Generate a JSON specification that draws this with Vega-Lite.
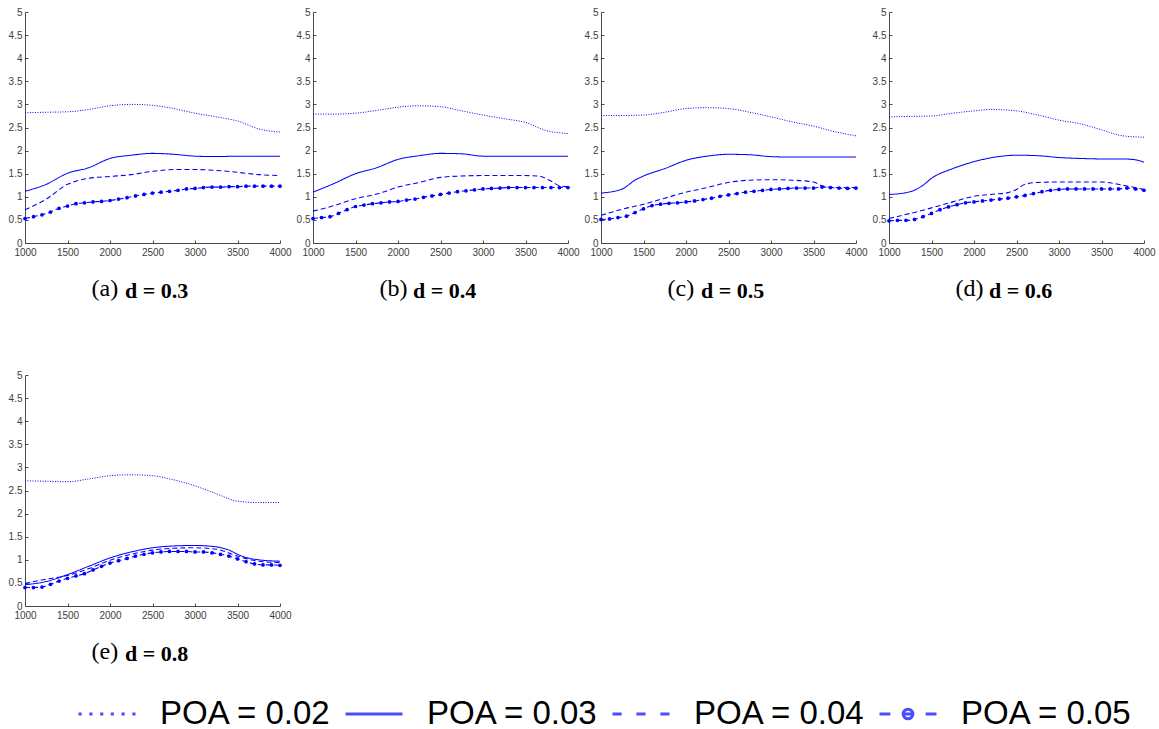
{
"$schema": "https://vega.github.io/schema/vega-lite/v6.json",
"padding": {"left": 8, "top": 7, "right": 5, "bottom": 5},
"background": "white",
"data": {"values": [
{"d":"0.3","p":"0.02","x":1000,"y":2.82},{"d":"0.3","p":"0.02","x":1250,"y":2.83},{"d":"0.3","p":"0.02","x":1500,"y":2.84},{"d":"0.3","p":"0.02","x":1750,"y":2.89},{"d":"0.3","p":"0.02","x":2000,"y":2.97},{"d":"0.3","p":"0.02","x":2250,"y":3.0},{"d":"0.3","p":"0.02","x":2500,"y":2.98},{"d":"0.3","p":"0.02","x":2750,"y":2.91},{"d":"0.3","p":"0.02","x":3000,"y":2.81},{"d":"0.3","p":"0.02","x":3250,"y":2.73},{"d":"0.3","p":"0.02","x":3500,"y":2.64},{"d":"0.3","p":"0.02","x":3750,"y":2.47},{"d":"0.3","p":"0.02","x":4000,"y":2.40},
{"d":"0.3","p":"0.03","x":1000,"y":1.12},{"d":"0.3","p":"0.03","x":1250,"y":1.27},{"d":"0.3","p":"0.03","x":1500,"y":1.51},{"d":"0.3","p":"0.03","x":1750,"y":1.63},{"d":"0.3","p":"0.03","x":2000,"y":1.83},{"d":"0.3","p":"0.03","x":2250,"y":1.90},{"d":"0.3","p":"0.03","x":2500,"y":1.94},{"d":"0.3","p":"0.03","x":2750,"y":1.92},{"d":"0.3","p":"0.03","x":3000,"y":1.88},{"d":"0.3","p":"0.03","x":3250,"y":1.87},{"d":"0.3","p":"0.03","x":3500,"y":1.88},{"d":"0.3","p":"0.03","x":3750,"y":1.88},{"d":"0.3","p":"0.03","x":4000,"y":1.88},
{"d":"0.3","p":"0.04","x":1000,"y":0.72},{"d":"0.3","p":"0.04","x":1250,"y":0.95},{"d":"0.3","p":"0.04","x":1500,"y":1.27},{"d":"0.3","p":"0.04","x":1750,"y":1.40},{"d":"0.3","p":"0.04","x":2000,"y":1.44},{"d":"0.3","p":"0.04","x":2250,"y":1.48},{"d":"0.3","p":"0.04","x":2500,"y":1.55},{"d":"0.3","p":"0.04","x":2750,"y":1.59},{"d":"0.3","p":"0.04","x":3000,"y":1.59},{"d":"0.3","p":"0.04","x":3250,"y":1.57},{"d":"0.3","p":"0.04","x":3500,"y":1.53},{"d":"0.3","p":"0.04","x":3750,"y":1.48},{"d":"0.3","p":"0.04","x":4000,"y":1.46},
{"d":"0.3","p":"0.05","x":1000,"y":0.53},{"d":"0.3","p":"0.05","x":1100,"y":0.57},{"d":"0.3","p":"0.05","x":1200,"y":0.61},{"d":"0.3","p":"0.05","x":1300,"y":0.67},{"d":"0.3","p":"0.05","x":1400,"y":0.75},{"d":"0.3","p":"0.05","x":1500,"y":0.80},{"d":"0.3","p":"0.05","x":1600,"y":0.85},{"d":"0.3","p":"0.05","x":1700,"y":0.87},{"d":"0.3","p":"0.05","x":1800,"y":0.89},{"d":"0.3","p":"0.05","x":1900,"y":0.90},{"d":"0.3","p":"0.05","x":2000,"y":0.92},{"d":"0.3","p":"0.05","x":2100,"y":0.95},{"d":"0.3","p":"0.05","x":2200,"y":0.98},{"d":"0.3","p":"0.05","x":2300,"y":1.02},{"d":"0.3","p":"0.05","x":2400,"y":1.05},{"d":"0.3","p":"0.05","x":2500,"y":1.08},{"d":"0.3","p":"0.05","x":2600,"y":1.10},{"d":"0.3","p":"0.05","x":2700,"y":1.12},{"d":"0.3","p":"0.05","x":2800,"y":1.14},{"d":"0.3","p":"0.05","x":2900,"y":1.17},{"d":"0.3","p":"0.05","x":3000,"y":1.18},{"d":"0.3","p":"0.05","x":3100,"y":1.20},{"d":"0.3","p":"0.05","x":3200,"y":1.21},{"d":"0.3","p":"0.05","x":3300,"y":1.21},{"d":"0.3","p":"0.05","x":3400,"y":1.22},{"d":"0.3","p":"0.05","x":3500,"y":1.22},{"d":"0.3","p":"0.05","x":3600,"y":1.23},{"d":"0.3","p":"0.05","x":3700,"y":1.23},{"d":"0.3","p":"0.05","x":3800,"y":1.23},{"d":"0.3","p":"0.05","x":3900,"y":1.23},{"d":"0.3","p":"0.05","x":4000,"y":1.23},

{"d":"0.4","p":"0.02","x":1000,"y":2.79},{"d":"0.4","p":"0.02","x":1250,"y":2.79},{"d":"0.4","p":"0.02","x":1500,"y":2.81},{"d":"0.4","p":"0.02","x":1750,"y":2.87},{"d":"0.4","p":"0.02","x":2000,"y":2.94},{"d":"0.4","p":"0.02","x":2250,"y":2.97},{"d":"0.4","p":"0.02","x":2500,"y":2.95},{"d":"0.4","p":"0.02","x":2750,"y":2.86},{"d":"0.4","p":"0.02","x":3000,"y":2.77},{"d":"0.4","p":"0.02","x":3250,"y":2.69},{"d":"0.4","p":"0.02","x":3500,"y":2.61},{"d":"0.4","p":"0.02","x":3750,"y":2.43},{"d":"0.4","p":"0.02","x":4000,"y":2.37},
{"d":"0.4","p":"0.03","x":1000,"y":1.10},{"d":"0.4","p":"0.03","x":1250,"y":1.29},{"d":"0.4","p":"0.03","x":1500,"y":1.50},{"d":"0.4","p":"0.03","x":1750,"y":1.63},{"d":"0.4","p":"0.03","x":2000,"y":1.81},{"d":"0.4","p":"0.03","x":2250,"y":1.89},{"d":"0.4","p":"0.03","x":2500,"y":1.94},{"d":"0.4","p":"0.03","x":2750,"y":1.93},{"d":"0.4","p":"0.03","x":3000,"y":1.88},{"d":"0.4","p":"0.03","x":3250,"y":1.88},{"d":"0.4","p":"0.03","x":3500,"y":1.88},{"d":"0.4","p":"0.03","x":3750,"y":1.88},{"d":"0.4","p":"0.03","x":4000,"y":1.88},
{"d":"0.4","p":"0.04","x":1000,"y":0.69},{"d":"0.4","p":"0.04","x":1250,"y":0.81},{"d":"0.4","p":"0.04","x":1500,"y":0.96},{"d":"0.4","p":"0.04","x":1750,"y":1.06},{"d":"0.4","p":"0.04","x":2000,"y":1.21},{"d":"0.4","p":"0.04","x":2250,"y":1.31},{"d":"0.4","p":"0.04","x":2500,"y":1.42},{"d":"0.4","p":"0.04","x":2750,"y":1.45},{"d":"0.4","p":"0.04","x":3000,"y":1.46},{"d":"0.4","p":"0.04","x":3250,"y":1.46},{"d":"0.4","p":"0.04","x":3500,"y":1.46},{"d":"0.4","p":"0.04","x":3650,"y":1.45},{"d":"0.4","p":"0.04","x":3800,"y":1.34},{"d":"0.4","p":"0.04","x":3900,"y":1.24},{"d":"0.4","p":"0.04","x":4000,"y":1.22},
{"d":"0.4","p":"0.05","x":1000,"y":0.53},{"d":"0.4","p":"0.05","x":1100,"y":0.55},{"d":"0.4","p":"0.05","x":1200,"y":0.57},{"d":"0.4","p":"0.05","x":1300,"y":0.64},{"d":"0.4","p":"0.05","x":1400,"y":0.72},{"d":"0.4","p":"0.05","x":1500,"y":0.79},{"d":"0.4","p":"0.05","x":1600,"y":0.82},{"d":"0.4","p":"0.05","x":1700,"y":0.85},{"d":"0.4","p":"0.05","x":1800,"y":0.87},{"d":"0.4","p":"0.05","x":1900,"y":0.89},{"d":"0.4","p":"0.05","x":2000,"y":0.90},{"d":"0.4","p":"0.05","x":2100,"y":0.93},{"d":"0.4","p":"0.05","x":2200,"y":0.95},{"d":"0.4","p":"0.05","x":2300,"y":0.99},{"d":"0.4","p":"0.05","x":2400,"y":1.02},{"d":"0.4","p":"0.05","x":2500,"y":1.05},{"d":"0.4","p":"0.05","x":2600,"y":1.08},{"d":"0.4","p":"0.05","x":2700,"y":1.11},{"d":"0.4","p":"0.05","x":2800,"y":1.13},{"d":"0.4","p":"0.05","x":2900,"y":1.15},{"d":"0.4","p":"0.05","x":3000,"y":1.17},{"d":"0.4","p":"0.05","x":3100,"y":1.18},{"d":"0.4","p":"0.05","x":3200,"y":1.19},{"d":"0.4","p":"0.05","x":3300,"y":1.20},{"d":"0.4","p":"0.05","x":3400,"y":1.20},{"d":"0.4","p":"0.05","x":3500,"y":1.20},{"d":"0.4","p":"0.05","x":3600,"y":1.20},{"d":"0.4","p":"0.05","x":3700,"y":1.20},{"d":"0.4","p":"0.05","x":3800,"y":1.20},{"d":"0.4","p":"0.05","x":3900,"y":1.20},{"d":"0.4","p":"0.05","x":4000,"y":1.20},

{"d":"0.5","p":"0.02","x":1000,"y":2.76},{"d":"0.5","p":"0.02","x":1250,"y":2.76},{"d":"0.5","p":"0.02","x":1500,"y":2.77},{"d":"0.5","p":"0.02","x":1750,"y":2.83},{"d":"0.5","p":"0.02","x":2000,"y":2.91},{"d":"0.5","p":"0.02","x":2250,"y":2.93},{"d":"0.5","p":"0.02","x":2500,"y":2.91},{"d":"0.5","p":"0.02","x":2750,"y":2.83},{"d":"0.5","p":"0.02","x":3000,"y":2.73},{"d":"0.5","p":"0.02","x":3250,"y":2.62},{"d":"0.5","p":"0.02","x":3500,"y":2.53},{"d":"0.5","p":"0.02","x":3750,"y":2.41},{"d":"0.5","p":"0.02","x":4000,"y":2.32},
{"d":"0.5","p":"0.03","x":1000,"y":1.08},{"d":"0.5","p":"0.03","x":1250,"y":1.17},{"d":"0.5","p":"0.03","x":1400,"y":1.36},{"d":"0.5","p":"0.03","x":1500,"y":1.45},{"d":"0.5","p":"0.03","x":1750,"y":1.61},{"d":"0.5","p":"0.03","x":2000,"y":1.79},{"d":"0.5","p":"0.03","x":2250,"y":1.88},{"d":"0.5","p":"0.03","x":2500,"y":1.92},{"d":"0.5","p":"0.03","x":2750,"y":1.91},{"d":"0.5","p":"0.03","x":3000,"y":1.87},{"d":"0.5","p":"0.03","x":3250,"y":1.86},{"d":"0.5","p":"0.03","x":3500,"y":1.86},{"d":"0.5","p":"0.03","x":3750,"y":1.86},{"d":"0.5","p":"0.03","x":4000,"y":1.86},
{"d":"0.5","p":"0.04","x":1000,"y":0.60},{"d":"0.5","p":"0.04","x":1250,"y":0.73},{"d":"0.5","p":"0.04","x":1500,"y":0.84},{"d":"0.5","p":"0.04","x":1750,"y":0.97},{"d":"0.5","p":"0.04","x":2000,"y":1.10},{"d":"0.5","p":"0.04","x":2250,"y":1.20},{"d":"0.5","p":"0.04","x":2500,"y":1.31},{"d":"0.5","p":"0.04","x":2750,"y":1.36},{"d":"0.5","p":"0.04","x":3000,"y":1.37},{"d":"0.5","p":"0.04","x":3250,"y":1.36},{"d":"0.5","p":"0.04","x":3500,"y":1.32},{"d":"0.5","p":"0.04","x":3600,"y":1.24},{"d":"0.5","p":"0.04","x":3750,"y":1.20},{"d":"0.5","p":"0.04","x":4000,"y":1.20},
{"d":"0.5","p":"0.05","x":1000,"y":0.51},{"d":"0.5","p":"0.05","x":1100,"y":0.52},{"d":"0.5","p":"0.05","x":1200,"y":0.55},{"d":"0.5","p":"0.05","x":1300,"y":0.58},{"d":"0.5","p":"0.05","x":1400,"y":0.66},{"d":"0.5","p":"0.05","x":1500,"y":0.74},{"d":"0.5","p":"0.05","x":1600,"y":0.81},{"d":"0.5","p":"0.05","x":1700,"y":0.84},{"d":"0.5","p":"0.05","x":1800,"y":0.86},{"d":"0.5","p":"0.05","x":1900,"y":0.87},{"d":"0.5","p":"0.05","x":2000,"y":0.89},{"d":"0.5","p":"0.05","x":2100,"y":0.91},{"d":"0.5","p":"0.05","x":2200,"y":0.94},{"d":"0.5","p":"0.05","x":2300,"y":0.97},{"d":"0.5","p":"0.05","x":2400,"y":1.01},{"d":"0.5","p":"0.05","x":2500,"y":1.04},{"d":"0.5","p":"0.05","x":2600,"y":1.07},{"d":"0.5","p":"0.05","x":2700,"y":1.10},{"d":"0.5","p":"0.05","x":2800,"y":1.12},{"d":"0.5","p":"0.05","x":2900,"y":1.14},{"d":"0.5","p":"0.05","x":3000,"y":1.16},{"d":"0.5","p":"0.05","x":3100,"y":1.17},{"d":"0.5","p":"0.05","x":3200,"y":1.18},{"d":"0.5","p":"0.05","x":3300,"y":1.19},{"d":"0.5","p":"0.05","x":3400,"y":1.19},{"d":"0.5","p":"0.05","x":3500,"y":1.19},{"d":"0.5","p":"0.05","x":3600,"y":1.21},{"d":"0.5","p":"0.05","x":3700,"y":1.20},{"d":"0.5","p":"0.05","x":3800,"y":1.19},{"d":"0.5","p":"0.05","x":3900,"y":1.18},{"d":"0.5","p":"0.05","x":4000,"y":1.19},

{"d":"0.6","p":"0.02","x":1000,"y":2.73},{"d":"0.6","p":"0.02","x":1250,"y":2.74},{"d":"0.6","p":"0.02","x":1500,"y":2.75},{"d":"0.6","p":"0.02","x":1750,"y":2.81},{"d":"0.6","p":"0.02","x":2000,"y":2.86},{"d":"0.6","p":"0.02","x":2200,"y":2.89},{"d":"0.6","p":"0.02","x":2500,"y":2.86},{"d":"0.6","p":"0.02","x":2750,"y":2.77},{"d":"0.6","p":"0.02","x":3000,"y":2.66},{"d":"0.6","p":"0.02","x":3250,"y":2.58},{"d":"0.6","p":"0.02","x":3500,"y":2.45},{"d":"0.6","p":"0.02","x":3750,"y":2.32},{"d":"0.6","p":"0.02","x":4000,"y":2.29},
{"d":"0.6","p":"0.03","x":1000,"y":1.05},{"d":"0.6","p":"0.03","x":1250,"y":1.11},{"d":"0.6","p":"0.03","x":1400,"y":1.25},{"d":"0.6","p":"0.03","x":1500,"y":1.40},{"d":"0.6","p":"0.03","x":1750,"y":1.61},{"d":"0.6","p":"0.03","x":2000,"y":1.76},{"d":"0.6","p":"0.03","x":2250,"y":1.86},{"d":"0.6","p":"0.03","x":2500,"y":1.90},{"d":"0.6","p":"0.03","x":2750,"y":1.89},{"d":"0.6","p":"0.03","x":3000,"y":1.85},{"d":"0.6","p":"0.03","x":3250,"y":1.83},{"d":"0.6","p":"0.03","x":3500,"y":1.82},{"d":"0.6","p":"0.03","x":3750,"y":1.82},{"d":"0.6","p":"0.03","x":3900,"y":1.80},{"d":"0.6","p":"0.03","x":4000,"y":1.75},
{"d":"0.6","p":"0.04","x":1000,"y":0.53},{"d":"0.6","p":"0.04","x":1250,"y":0.64},{"d":"0.6","p":"0.04","x":1500,"y":0.76},{"d":"0.6","p":"0.04","x":1750,"y":0.89},{"d":"0.6","p":"0.04","x":2000,"y":1.01},{"d":"0.6","p":"0.04","x":2250,"y":1.06},{"d":"0.6","p":"0.04","x":2400,"y":1.09},{"d":"0.6","p":"0.04","x":2500,"y":1.16},{"d":"0.6","p":"0.04","x":2600,"y":1.27},{"d":"0.6","p":"0.04","x":2750,"y":1.31},{"d":"0.6","p":"0.04","x":3000,"y":1.32},{"d":"0.6","p":"0.04","x":3250,"y":1.32},{"d":"0.6","p":"0.04","x":3500,"y":1.32},{"d":"0.6","p":"0.04","x":3750,"y":1.25},{"d":"0.6","p":"0.04","x":4000,"y":1.16},
{"d":"0.6","p":"0.05","x":1000,"y":0.48},{"d":"0.6","p":"0.05","x":1100,"y":0.49},{"d":"0.6","p":"0.05","x":1200,"y":0.49},{"d":"0.6","p":"0.05","x":1300,"y":0.51},{"d":"0.6","p":"0.05","x":1400,"y":0.57},{"d":"0.6","p":"0.05","x":1500,"y":0.64},{"d":"0.6","p":"0.05","x":1600,"y":0.72},{"d":"0.6","p":"0.05","x":1700,"y":0.78},{"d":"0.6","p":"0.05","x":1800,"y":0.83},{"d":"0.6","p":"0.05","x":1900,"y":0.87},{"d":"0.6","p":"0.05","x":2000,"y":0.89},{"d":"0.6","p":"0.05","x":2100,"y":0.91},{"d":"0.6","p":"0.05","x":2200,"y":0.93},{"d":"0.6","p":"0.05","x":2300,"y":0.95},{"d":"0.6","p":"0.05","x":2400,"y":0.97},{"d":"0.6","p":"0.05","x":2500,"y":1.00},{"d":"0.6","p":"0.05","x":2600,"y":1.03},{"d":"0.6","p":"0.05","x":2700,"y":1.07},{"d":"0.6","p":"0.05","x":2800,"y":1.11},{"d":"0.6","p":"0.05","x":2900,"y":1.14},{"d":"0.6","p":"0.05","x":3000,"y":1.16},{"d":"0.6","p":"0.05","x":3100,"y":1.17},{"d":"0.6","p":"0.05","x":3200,"y":1.17},{"d":"0.6","p":"0.05","x":3300,"y":1.17},{"d":"0.6","p":"0.05","x":3400,"y":1.17},{"d":"0.6","p":"0.05","x":3500,"y":1.17},{"d":"0.6","p":"0.05","x":3600,"y":1.17},{"d":"0.6","p":"0.05","x":3700,"y":1.17},{"d":"0.6","p":"0.05","x":3800,"y":1.19},{"d":"0.6","p":"0.05","x":3900,"y":1.17},{"d":"0.6","p":"0.05","x":4000,"y":1.14},

{"d":"0.8","p":"0.02","x":1000,"y":2.71},{"d":"0.8","p":"0.02","x":1250,"y":2.70},{"d":"0.8","p":"0.02","x":1500,"y":2.69},{"d":"0.8","p":"0.02","x":1750,"y":2.75},{"d":"0.8","p":"0.02","x":2000,"y":2.82},{"d":"0.8","p":"0.02","x":2250,"y":2.84},{"d":"0.8","p":"0.02","x":2500,"y":2.82},{"d":"0.8","p":"0.02","x":2750,"y":2.73},{"d":"0.8","p":"0.02","x":3000,"y":2.60},{"d":"0.8","p":"0.02","x":3250,"y":2.43},{"d":"0.8","p":"0.02","x":3500,"y":2.27},{"d":"0.8","p":"0.02","x":3750,"y":2.24},{"d":"0.8","p":"0.02","x":4000,"y":2.24},
{"d":"0.8","p":"0.03","x":1000,"y":0.46},{"d":"0.8","p":"0.03","x":1250,"y":0.53},{"d":"0.8","p":"0.03","x":1500,"y":0.68},{"d":"0.8","p":"0.03","x":1750,"y":0.86},{"d":"0.8","p":"0.03","x":2000,"y":1.04},{"d":"0.8","p":"0.03","x":2250,"y":1.17},{"d":"0.8","p":"0.03","x":2500,"y":1.26},{"d":"0.8","p":"0.03","x":2750,"y":1.30},{"d":"0.8","p":"0.03","x":3000,"y":1.31},{"d":"0.8","p":"0.03","x":3250,"y":1.28},{"d":"0.8","p":"0.03","x":3400,"y":1.21},{"d":"0.8","p":"0.03","x":3500,"y":1.12},{"d":"0.8","p":"0.03","x":3600,"y":1.05},{"d":"0.8","p":"0.03","x":3750,"y":1.00},{"d":"0.8","p":"0.03","x":4000,"y":0.97},
{"d":"0.8","p":"0.04","x":1000,"y":0.49},{"d":"0.8","p":"0.04","x":1250,"y":0.58},{"d":"0.8","p":"0.04","x":1500,"y":0.66},{"d":"0.8","p":"0.04","x":1750,"y":0.81},{"d":"0.8","p":"0.04","x":2000,"y":0.99},{"d":"0.8","p":"0.04","x":2250,"y":1.12},{"d":"0.8","p":"0.04","x":2500,"y":1.21},{"d":"0.8","p":"0.04","x":2750,"y":1.25},{"d":"0.8","p":"0.04","x":3000,"y":1.26},{"d":"0.8","p":"0.04","x":3250,"y":1.23},{"d":"0.8","p":"0.04","x":3500,"y":1.08},{"d":"0.8","p":"0.04","x":3750,"y":0.97},{"d":"0.8","p":"0.04","x":4000,"y":0.94},
{"d":"0.8","p":"0.05","x":1000,"y":0.40},{"d":"0.8","p":"0.05","x":1100,"y":0.40},{"d":"0.8","p":"0.05","x":1200,"y":0.41},{"d":"0.8","p":"0.05","x":1300,"y":0.47},{"d":"0.8","p":"0.05","x":1400,"y":0.54},{"d":"0.8","p":"0.05","x":1500,"y":0.60},{"d":"0.8","p":"0.05","x":1600,"y":0.65},{"d":"0.8","p":"0.05","x":1700,"y":0.70},{"d":"0.8","p":"0.05","x":1800,"y":0.78},{"d":"0.8","p":"0.05","x":1900,"y":0.86},{"d":"0.8","p":"0.05","x":2000,"y":0.93},{"d":"0.8","p":"0.05","x":2100,"y":0.98},{"d":"0.8","p":"0.05","x":2200,"y":1.03},{"d":"0.8","p":"0.05","x":2300,"y":1.08},{"d":"0.8","p":"0.05","x":2400,"y":1.12},{"d":"0.8","p":"0.05","x":2500,"y":1.15},{"d":"0.8","p":"0.05","x":2600,"y":1.17},{"d":"0.8","p":"0.05","x":2700,"y":1.18},{"d":"0.8","p":"0.05","x":2800,"y":1.18},{"d":"0.8","p":"0.05","x":2900,"y":1.18},{"d":"0.8","p":"0.05","x":3000,"y":1.17},{"d":"0.8","p":"0.05","x":3100,"y":1.17},{"d":"0.8","p":"0.05","x":3200,"y":1.15},{"d":"0.8","p":"0.05","x":3300,"y":1.12},{"d":"0.8","p":"0.05","x":3400,"y":1.08},{"d":"0.8","p":"0.05","x":3500,"y":1.02},{"d":"0.8","p":"0.05","x":3600,"y":0.96},{"d":"0.8","p":"0.05","x":3700,"y":0.91},{"d":"0.8","p":"0.05","x":3800,"y":0.89},{"d":"0.8","p":"0.05","x":3900,"y":0.89},{"d":"0.8","p":"0.05","x":4000,"y":0.88}
]},
"columns": 4,
"bounds": "flush",
"spacing": {"column": 33, "row": 132},
"concat": [
{"width": 255, "height": 231,
 "title": {"text": "d = 0.3"},
 "transform": [{"filter": "datum.d == '0.3'"}],
 "encoding": {
  "x": {"field": "x", "type": "quantitative", "scale": {"domain": [1000, 4000], "nice": false}, "axis": {"values": [1000,1500,2000,2500,3000,3500,4000], "format": "d", "title": "(a)"}},
  "y": {"field": "y", "type": "quantitative", "scale": {"domain": [0, 5], "nice": false}, "axis": {"values": [0,0.5,1,1.5,2,2.5,3,3.5,4,4.5,5], "format": "~g", "title": null}}
 },
 "layer": [
  {"mark": {"type": "line", "interpolate": "monotone", "color": "#0000ff"},
   "encoding": {
    "strokeDash": {"field": "p", "type": "nominal", "scale": {"range": [[1,1.5],[1,0],[5,3],[5,3]]}, "legend": null},
    "strokeWidth": {"field": "p", "type": "nominal", "scale": {"range": [1,1.1,1,1.4]}, "legend": null}
   }},
  {"transform": [{"filter": "datum.p == '0.05'"}], "mark": {"type": "point", "filled": true, "size": 14, "color": "#0000ff", "opacity": 1}},
  {"transform": [{"filter": "datum.x == 1000"}], "mark": {"type": "point", "filled": false, "strokeWidth": 3, "color": "#0000ff", "size": 0},
   "encoding": {"shape": {"field": "p", "type": "nominal",
      "scale": {"domain": ["0.02","0.03","0.04","0.05"], "range": ["M-1,0H-0.89M-0.62,0H-0.51M-0.24,0H-0.13M0.13,0H0.24M0.51,0H0.62M0.89,0H1", "M-1,0H1", "M-1,0H-0.68M-0.16,0H0.16M0.68,0H1", "M-1,0H-0.62M0.62,0H1M-0.17,0H0.17M0.17,0A0.17,0.17 0 1,1 -0.17,0A0.17,0.17 0 1,1 0.17,0"]},
      "legend": {"title": null, "orient": "none", "direction": "horizontal", "legendX": 52, "legendY": 672, "labelExpr": "'POA = ' + datum.label", "symbolStrokeWidth": 3, "symbolSize": 3249}}}}
 ]},
{"width": 255, "height": 231,
 "title": {"text": "d = 0.4"},
 "transform": [{"filter": "datum.d == '0.4'"}],
 "encoding": {
  "x": {"field": "x", "type": "quantitative", "scale": {"domain": [1000, 4000], "nice": false}, "axis": {"values": [1000,1500,2000,2500,3000,3500,4000], "format": "d", "title": "(b)"}},
  "y": {"field": "y", "type": "quantitative", "scale": {"domain": [0, 5], "nice": false}, "axis": {"values": [0,0.5,1,1.5,2,2.5,3,3.5,4,4.5,5], "format": "~g", "title": null}}
 },
 "layer": [
  {"mark": {"type": "line", "interpolate": "monotone", "color": "#0000ff"},
   "encoding": {
    "strokeDash": {"field": "p", "type": "nominal", "scale": {"range": [[1,1.5],[1,0],[5,3],[5,3]]}, "legend": null},
    "strokeWidth": {"field": "p", "type": "nominal", "scale": {"range": [1,1.1,1,1.4]}, "legend": null}
   }},
  {"transform": [{"filter": "datum.p == '0.05'"}], "mark": {"type": "point", "filled": true, "size": 14, "color": "#0000ff", "opacity": 1}}
 ]},
{"width": 255, "height": 231,
 "title": {"text": "d = 0.5"},
 "transform": [{"filter": "datum.d == '0.5'"}],
 "encoding": {
  "x": {"field": "x", "type": "quantitative", "scale": {"domain": [1000, 4000], "nice": false}, "axis": {"values": [1000,1500,2000,2500,3000,3500,4000], "format": "d", "title": "(c)"}},
  "y": {"field": "y", "type": "quantitative", "scale": {"domain": [0, 5], "nice": false}, "axis": {"values": [0,0.5,1,1.5,2,2.5,3,3.5,4,4.5,5], "format": "~g", "title": null}}
 },
 "layer": [
  {"mark": {"type": "line", "interpolate": "monotone", "color": "#0000ff"},
   "encoding": {
    "strokeDash": {"field": "p", "type": "nominal", "scale": {"range": [[1,1.5],[1,0],[5,3],[5,3]]}, "legend": null},
    "strokeWidth": {"field": "p", "type": "nominal", "scale": {"range": [1,1.1,1,1.4]}, "legend": null}
   }},
  {"transform": [{"filter": "datum.p == '0.05'"}], "mark": {"type": "point", "filled": true, "size": 14, "color": "#0000ff", "opacity": 1}}
 ]},
{"width": 255, "height": 231,
 "title": {"text": "d = 0.6"},
 "transform": [{"filter": "datum.d == '0.6'"}],
 "encoding": {
  "x": {"field": "x", "type": "quantitative", "scale": {"domain": [1000, 4000], "nice": false}, "axis": {"values": [1000,1500,2000,2500,3000,3500,4000], "format": "d", "title": "(d)"}},
  "y": {"field": "y", "type": "quantitative", "scale": {"domain": [0, 5], "nice": false}, "axis": {"values": [0,0.5,1,1.5,2,2.5,3,3.5,4,4.5,5], "format": "~g", "title": null}}
 },
 "layer": [
  {"mark": {"type": "line", "interpolate": "monotone", "color": "#0000ff"},
   "encoding": {
    "strokeDash": {"field": "p", "type": "nominal", "scale": {"range": [[1,1.5],[1,0],[5,3],[5,3]]}, "legend": null},
    "strokeWidth": {"field": "p", "type": "nominal", "scale": {"range": [1,1.1,1,1.4]}, "legend": null}
   }},
  {"transform": [{"filter": "datum.p == '0.05'"}], "mark": {"type": "point", "filled": true, "size": 14, "color": "#0000ff", "opacity": 1}}
 ]},
{"width": 255, "height": 231,
 "title": {"text": "d = 0.8"},
 "transform": [{"filter": "datum.d == '0.8'"}],
 "encoding": {
  "x": {"field": "x", "type": "quantitative", "scale": {"domain": [1000, 4000], "nice": false}, "axis": {"values": [1000,1500,2000,2500,3000,3500,4000], "format": "d", "title": "(e)"}},
  "y": {"field": "y", "type": "quantitative", "scale": {"domain": [0, 5], "nice": false}, "axis": {"values": [0,0.5,1,1.5,2,2.5,3,3.5,4,4.5,5], "format": "~g", "title": null}}
 },
 "layer": [
  {"mark": {"type": "line", "interpolate": "monotone", "color": "#0000ff"},
   "encoding": {
    "strokeDash": {"field": "p", "type": "nominal", "scale": {"range": [[1,1.5],[1,0],[5,3],[5,3]]}, "legend": null},
    "strokeWidth": {"field": "p", "type": "nominal", "scale": {"range": [1,1.1,1,1.4]}, "legend": null}
   }},
  {"transform": [{"filter": "datum.p == '0.05'"}], "mark": {"type": "point", "filled": true, "size": 14, "color": "#0000ff", "opacity": 1}}
 ]}
],
"config": {
 "view": {"stroke": null},
 "axis": {"grid": false, "domainColor": "#4a4a4a", "tickColor": "#4a4a4a", "labelColor": "#404040", "labelFont": "Liberation Sans", "labelFontSize": 10, "tickSize": -3, "labelPadding": 6, "domainWidth": 1},
 "axisX": {"labelFlush": false, "labelPadding": 7, "titleFont": "Liberation Serif", "titleFontSize": 24, "titleFontWeight": "normal", "titleColor": "black", "titleX": 66, "titleY": 52, "titleAlign": "left", "titleBaseline": "alphabetic", "titleAnchor": null},
 "title": {"orient": "bottom", "anchor": "start", "frame": "group", "dx": 100, "offset": -19, "baseline": "alphabetic", "font": "Liberation Serif", "fontSize": 22, "fontWeight": "bold", "color": "black"},
 "legend": {"padding": 0, "labelFont": "Liberation Sans", "labelFontSize": 33, "labelColor": "black", "labelOffset": 23, "columnPadding": 7, "labelLimit": 400}
}
}
